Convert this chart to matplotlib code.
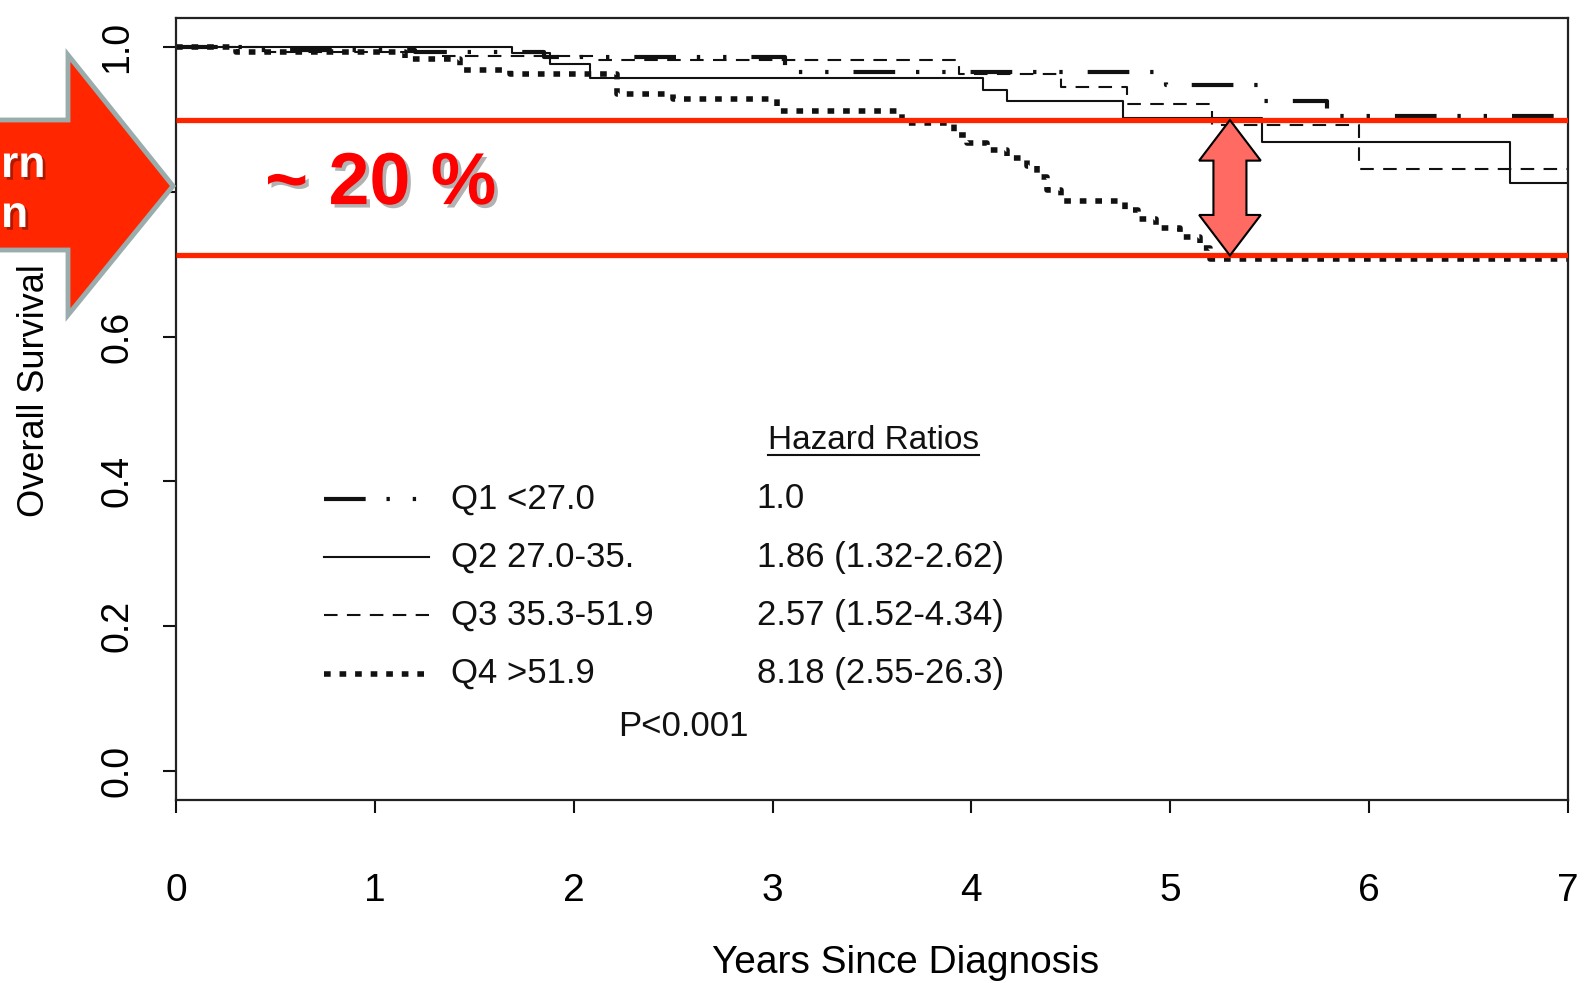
import matplotlib
matplotlib.use("Agg")
import matplotlib.pyplot as plt
import matplotlib.patheffects as pe
from matplotlib.patches import Polygon

plt.rcParams['font.family'] = ['Liberation Sans', 'DejaVu Sans']

# Kaplan-Meier steps (years, survival)
q1_t = [0, 0.4, 1.2, 1.85, 3.06, 4.98, 5.44, 5.79, 7.0]
q1_s = [1.0, 0.996, 0.993, 0.986, 0.966, 0.948, 0.926, 0.904, 0.904]

q2_t = [0, 1.69, 1.88, 2.08, 4.06, 4.18, 4.76, 5.46, 6.71, 7.0]
q2_s = [1.0, 0.991, 0.976, 0.957, 0.941, 0.925, 0.902, 0.869, 0.812, 0.812]

q3_t = [0, 0.45, 1.3, 2.1, 3.94, 4.45, 4.78, 5.21, 5.95, 7.0]
q3_s = [1.0, 0.993, 0.988, 0.982, 0.962, 0.945, 0.921, 0.892, 0.831, 0.831]

q4_t = [0, 0.3, 1.15, 1.43, 1.68, 2.22, 2.5, 3.02, 3.65, 3.91, 3.98, 4.08,
        4.18, 4.28, 4.33, 4.38, 4.45, 4.77, 4.84, 4.93, 5.05, 5.15, 5.2, 7.0]
q4_s = [1.0, 0.993, 0.983, 0.968, 0.962, 0.935, 0.928, 0.911, 0.895, 0.879, 0.868, 0.858,
        0.846, 0.835, 0.82, 0.803, 0.787, 0.775, 0.762, 0.75, 0.738, 0.722, 0.707, 0.707]

groups = ['Q1 <27.0', 'Q2 27.0-35.', 'Q3 35.3-51.9', 'Q4 >51.9']
hazard = ['1.0', '1.86 (1.32-2.62)', '2.57 (1.52-4.34)', '8.18 (2.55-26.3)']
x_ticks = [0, 1, 2, 3, 4, 5, 6, 7]
y_ticks = [0.0, 0.2, 0.4, 0.6, 0.8, 1.0]
y_ticklabels = ['0.0', '0.2', '0.4', '0.6', '0.8', '1.0']

# annotation: gap between Q1 and Q4 at ~5.3 years
band_hi = 0.899
band_lo = 0.712
gap_x = 5.3

W, H = 1594, 983
fig = plt.figure(figsize=(W / 100, H / 100), dpi=100)
ax = fig.add_axes([176 / W, 1 - 800 / H, 1392 / W, 782 / H])

ink = '#111111'
styles = [
    dict(lw=3.0, dashes=(10, 5, 0.8, 5.5, 0.8, 6)),
    dict(lw=1.5, linestyle='-'),
    dict(lw=1.5, dashes=(6.5, 4.5)),
    dict(lw=4.0, dashes=(1.2, 1.6), dash_capstyle='butt'),
]
curves = [(q1_t, q1_s), (q2_t, q2_s), (q3_t, q3_s), (q4_t, q4_s)]
for (t, s), st in zip(curves, styles):
    ax.step(t, s, where='post', color=ink, solid_capstyle='butt', **st)

ax.set_xlim(0, 7)
ax.set_ylim(-0.04, 1.04)
ax.set_xticks(x_ticks)
ax.set_xticklabels([str(v) for v in x_ticks], fontsize=28)
ax.set_yticks(y_ticks)
ax.set_yticklabels(y_ticklabels, fontsize=27, rotation=90, va='center')
ax.tick_params(axis='both', length=9.5, width=1.5, color=ink)
ax.tick_params(axis='x', pad=43)
ax.tick_params(axis='y', pad=20)
for sp in ax.spines.values():
    sp.set_linewidth(1.6)
    sp.set_color('#222222')

ax.set_xlabel('Years Since Diagnosis', fontsize=28)
ax.xaxis.set_label_coords(0.524, -0.208)
ax.xaxis.label.set_va('center')
ax.set_ylabel('Overall Survival', fontsize=26)
ax.yaxis.set_label_coords(-0.102, 0.523)
ax.yaxis.label.set_va('center')

# legend block drawn inside the plot
row_top, row_step = 0.376, 0.0805
hr_title = ax.text(3.506, 0.445, 'Hazard Ratios', fontsize=24,
                   ha='center', va='baseline', color=ink)
for i, (g, hr, st) in enumerate(zip(groups, hazard, styles)):
    yy = row_top - i * row_step
    ax.plot([0.744, 1.273], [yy, yy], color=ink, **st)
    ax.text(1.383, yy, g, fontsize=25, ha='left', va='center', color=ink)
    ax.text(2.92, yy, hr, fontsize=25, ha='left', va='center', color=ink)
ax.text(2.55, 0.0615, 'P<0.001', fontsize=25, ha='center', va='center', color=ink)

# underline the "Hazard Ratios" heading
fig.canvas.draw()
bb = hr_title.get_window_extent().transformed(ax.transData.inverted())
ax.plot([bb.x0, bb.x1], [0.437, 0.437], color=ink, lw=1.5)

# red overlay: band lines, double arrow, label
red = '#ff2400'
ax.hlines([band_hi, band_lo], 0, 7, color=red, lw=3.8, zorder=6)
hh, hs, hl = 0.155, 0.083, 0.056
verts = [(gap_x, band_hi), (gap_x + hh, band_hi - hl), (gap_x + hs, band_hi - hl),
         (gap_x + hs, band_lo + hl), (gap_x + hh, band_lo + hl), (gap_x, band_lo),
         (gap_x - hh, band_lo + hl), (gap_x - hs, band_lo + hl), (gap_x - hs, band_hi - hl),
         (gap_x - hh, band_hi - hl)]
ax.add_patch(Polygon(verts, closed=True, facecolor='#ff6a63', edgecolor='black',
                     lw=1.5, zorder=7))
shadow = [pe.SimplePatchShadow(offset=(2.5, -2.5), shadow_rgbFace='#555555', alpha=0.45),
          pe.Normal()]
ax.text(1.03, 0.783, '~ 20 %', fontsize=53, fontweight='bold', color='#ff0000',
        ha='center', va='baseline', zorder=8, path_effects=shadow)

# big red arrow coming in from the left edge (figure pixels)
def fp(x, y):
    return (x / W, 1 - y / H)

arrow = [fp(-30, 120), fp(68, 120), fp(68, 55), fp(173, 186),
         fp(68, 315), fp(68, 250), fp(-30, 250)]
fig.add_artist(Polygon(arrow, closed=True, transform=fig.transFigure,
                       facecolor='#ff2600', edgecolor='#9aacac', lw=3.5,
                       joinstyle='miter', zorder=10))
tshadow = [pe.SimplePatchShadow(offset=(2, -2), shadow_rgbFace='#7a1000', alpha=0.6),
           pe.Normal()]
fig.text(1 / W, 1 - 177 / H, 'rn', ha='left', va='baseline', color='white',
         fontsize=32, fontweight='bold', zorder=11, path_effects=tshadow)
fig.text(1 / W, 1 - 227 / H, 'n', ha='left', va='baseline', color='white',
         fontsize=32, fontweight='bold', zorder=11, path_effects=tshadow)

fig.savefig('out.png', dpi=100, facecolor='white')
